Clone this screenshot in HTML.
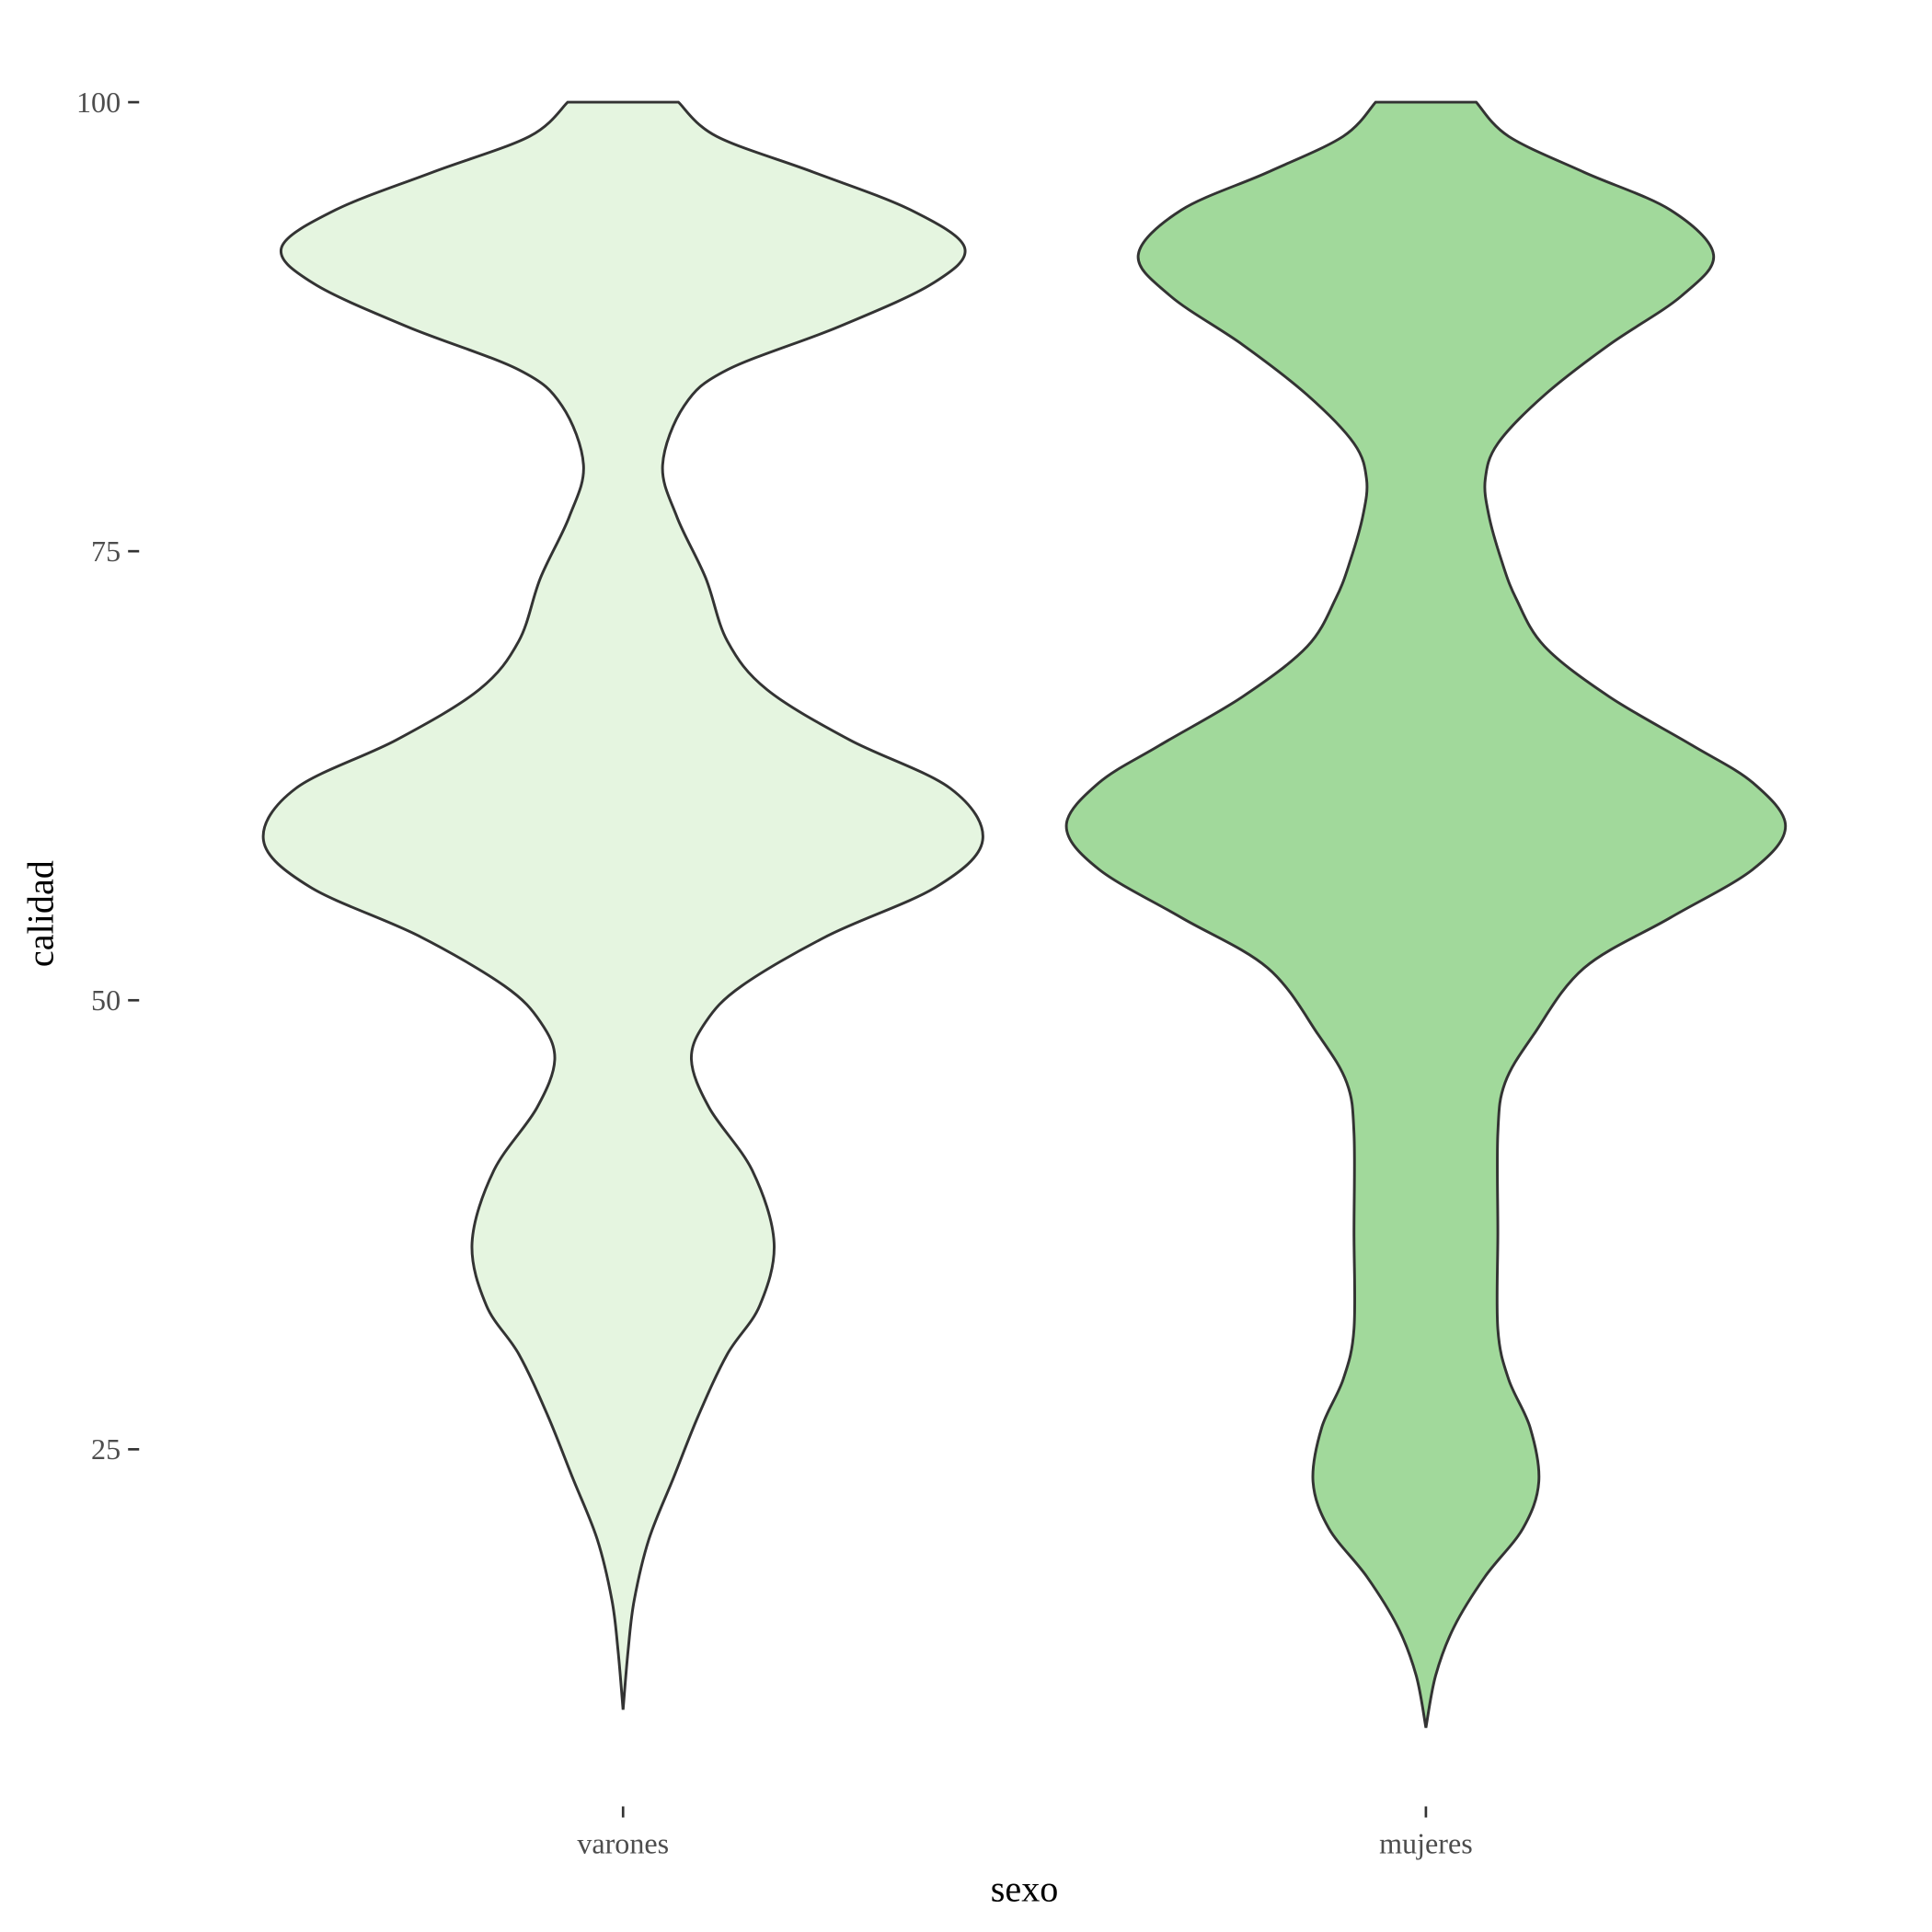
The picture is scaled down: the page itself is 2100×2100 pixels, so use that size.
<!DOCTYPE html>
<html><head><meta charset="utf-8"><style>html,body{margin:0;padding:0;background:#fff}svg{display:block}</style></head>
<body>
<svg id="chart" width="2100" height="2100" viewBox="0 0 1569 1569" xmlns="http://www.w3.org/2000/svg" font-family="'Liberation Serif', serif">
<rect width="1569" height="1569" fill="#fff"/>
<g id="plot"></g>
<g id="axes"></g>
<text x="832" y="1544" font-size="30" text-anchor="middle" fill="#000">sexo</text>
<text transform="translate(43,742) rotate(-90)" font-size="30" text-anchor="middle" fill="#000">calidad</text>
</svg>
<script>
const categories = ["varones","mujeres"];
const fills = ["#e5f5e0","#a1d99b"];
const yTicks = [25,50,75,100];
// calidad levels and density half-widths (relative) per group
const varonesLevels = [100,98.1,96.1,94,91.9,89.9,87.5,85.1,83.1,79.8,76.9,73.5,70,67.3,64.5,61.8,58.9,56.3,53.6,50.8,48.8,46.7,44,40.5,36.5,33,30.3,26.9,23.4,20,16.6,13.8,10.5];
const varonesDensity = [0.154,0.26,0.53,0.80,0.95,0.86,0.60,0.29,0.17,0.11,0.15,0.23,0.29,0.40,0.63,0.91,1.0,0.87,0.57,0.33,0.23,0.19,0.24,0.36,0.42,0.38,0.29,0.21,0.14,0.072,0.031,0.014,0];
const mujeresLevels = [100,98.1,96.1,94,91.5,89.2,86.5,83.7,81,79,77,74.5,72.4,69.7,66.9,64.2,62.1,59.7,57.3,54.6,51.8,48.1,45.4,42.6,37.1,31.7,28.9,26.2,23.2,20.6,17.9,15.1,12.4,9.5];
const mujeresDensity = [0.14,0.23,0.44,0.68,0.80,0.71,0.51,0.33,0.20,0.165,0.175,0.21,0.25,0.33,0.51,0.74,0.91,1.0,0.91,0.68,0.44,0.30,0.22,0.20,0.20,0.20,0.23,0.29,0.314,0.27,0.164,0.078,0.027,0];

const xPos = {varones:506, mujeres:1158};
const maxHalf = 292;
function yScale(v){ return 83 + (100 - v) * (1094/75); }
function xScale(c){ return xPos[c]; }
const NS = "http://www.w3.org/2000/svg";
function smoothPath(pts){
  let d = "M" + pts[0][0].toFixed(2) + "," + pts[0][1].toFixed(2);
  for(let i=0;i<pts.length-1;i++){
    const p0=pts[Math.max(0,i-1)],p1=pts[i],p2=pts[i+1],p3=pts[Math.min(pts.length-1,i+2)];
    const c1=[p1[0]+(p2[0]-p0[0])/6,p1[1]+(p2[1]-p0[1])/6];
    const c2=[p2[0]-(p3[0]-p1[0])/6,p2[1]-(p3[1]-p1[1])/6];
    d+="C"+c1[0].toFixed(2)+","+c1[1].toFixed(2)+" "+c2[0].toFixed(2)+","+c2[1].toFixed(2)+" "+p2[0].toFixed(2)+","+p2[1].toFixed(2);
  }
  return d;
}
const plot = document.getElementById("plot");
const groups = [[varonesLevels,varonesDensity],[mujeresLevels,mujeresDensity]];
categories.forEach((c,gi)=>{
  const lv=groups[gi][0], dn=groups[gi][1], cx=xScale(c);
  const right=lv.map((v,i)=>[cx+dn[i]*maxHalf, yScale(v)]);
  const left=lv.map((v,i)=>[cx-dn[i]*maxHalf, yScale(v)]).reverse();
  const dR=smoothPath(right), dL=smoothPath(left);
  const d=dR+" L"+dL.slice(1)+" Z";
  const p=document.createElementNS(NS,"path");
  p.setAttribute("d",d);
  p.setAttribute("fill",fills[gi]);
  p.setAttribute("stroke","#333");
  p.setAttribute("stroke-width","2.2");
  
  
  plot.appendChild(p);
});
const axes=document.getElementById("axes");
yTicks.forEach(t=>{
  const y=yScale(t);
  const l=document.createElementNS(NS,"line");
  l.setAttribute("x1",104);l.setAttribute("x2",113);l.setAttribute("y1",y);l.setAttribute("y2",y);
  l.setAttribute("stroke","#333");l.setAttribute("stroke-width","2");
  
  
  axes.appendChild(l);
  const tx=document.createElementNS(NS,"text");
  tx.setAttribute("x",98);tx.setAttribute("y",y+8);tx.setAttribute("text-anchor","end");
  tx.setAttribute("font-size","24");tx.setAttribute("fill","#4d4d4d");
  tx.textContent=t;
  
  
  axes.appendChild(tx);
});
categories.forEach(c=>{
  const x=xScale(c);
  const l=document.createElementNS(NS,"line");
  l.setAttribute("x1",x);l.setAttribute("x2",x);l.setAttribute("y1",1467);l.setAttribute("y2",1476);
  l.setAttribute("stroke","#333");l.setAttribute("stroke-width","2");
  
  
  axes.appendChild(l);
  const tx=document.createElementNS(NS,"text");
  tx.setAttribute("x",x);tx.setAttribute("y",1505);tx.setAttribute("text-anchor","middle");
  tx.setAttribute("font-size","24");tx.setAttribute("fill","#4d4d4d");
  tx.textContent=c;
  
  
  axes.appendChild(tx);
});
</script>
</body></html>
